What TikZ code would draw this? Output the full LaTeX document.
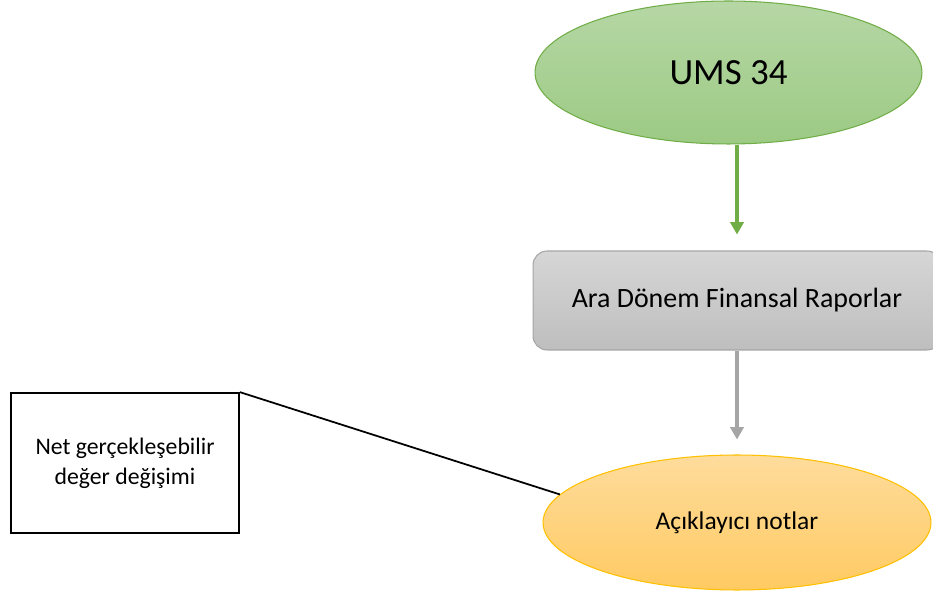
\documentclass[tikz,border=0pt]{standalone}
\usepackage{fontspec}
\setmainfont{Carlito}
\usepackage{tikz}
\usetikzlibrary{arrows.meta, shapes.geometric, positioning}
\definecolor{OfficeGreen}{RGB}{112,173,71}
\definecolor{GreenTop}{RGB}{182,215,165}
\definecolor{GreenBottom}{RGB}{156,202,132}
\definecolor{OfficeGray}{RGB}{165,165,165}
\definecolor{GrayTop}{RGB}{214,214,214}
\definecolor{GrayBottom}{RGB}{190,190,190}
\definecolor{OfficeGold}{RGB}{255,192,0}
\definecolor{GoldTop}{RGB}{254,220,156}
\definecolor{GoldBottom}{RGB}{255,202,98}

\begin{document}
\begin{tikzpicture}[x=0.02cm, y=-0.02cm,
	oval/.style={ellipse, inner sep=0pt, line width=0.6pt},
	flow/.style={-{Triangle[length=7pt, width=7.5pt]}, line width=2pt}]
	\useasboundingbox (0,0) rectangle (933,597);
	\node[oval, draw=OfficeGreen, top color=GreenTop, bottom color=GreenBottom,
		minimum width=7.74cm, minimum height=2.86cm,
		font=\fontsize{21}{25}\selectfont] (ums) at (728.5,72.5) {UMS 34};
	\node[draw=OfficeGray, line width=0.6pt, rounded corners=8pt, top color=GrayTop,
		bottom color=GrayBottom, minimum width=8.16cm, minimum height=1.98cm,
		font=\fontsize{15.9}{19}\selectfont] (ara) at (737,300.5) {Ara Dönem Finansal Raporlar};
	\node[oval, draw=OfficeGold, top color=GoldTop, bottom color=GoldBottom,
		minimum width=7.76cm, minimum height=2.7cm,
		font=\fontsize{14.5}{17}\selectfont] (notes) at (737,522.5) {Açıklayıcı notlar};
	\node[draw, line width=1pt, minimum width=4.56cm, minimum height=2.8cm, align=center,
		font=\fontsize{13.5}{17}\selectfont] (net) at (125,463) {Net gerçekleşebilir\\değer değişimi};
	\draw[flow, OfficeGreen, shorten >=0.32cm] (ums.south -| ara.north) -- (ara.north);
	\draw[flow, OfficeGray, shorten >=0.3cm] (ara.south) -- (notes.north);
	\draw[line width=1pt] (net.north east) -- (notes.171);
\end{tikzpicture}
\end{document}
